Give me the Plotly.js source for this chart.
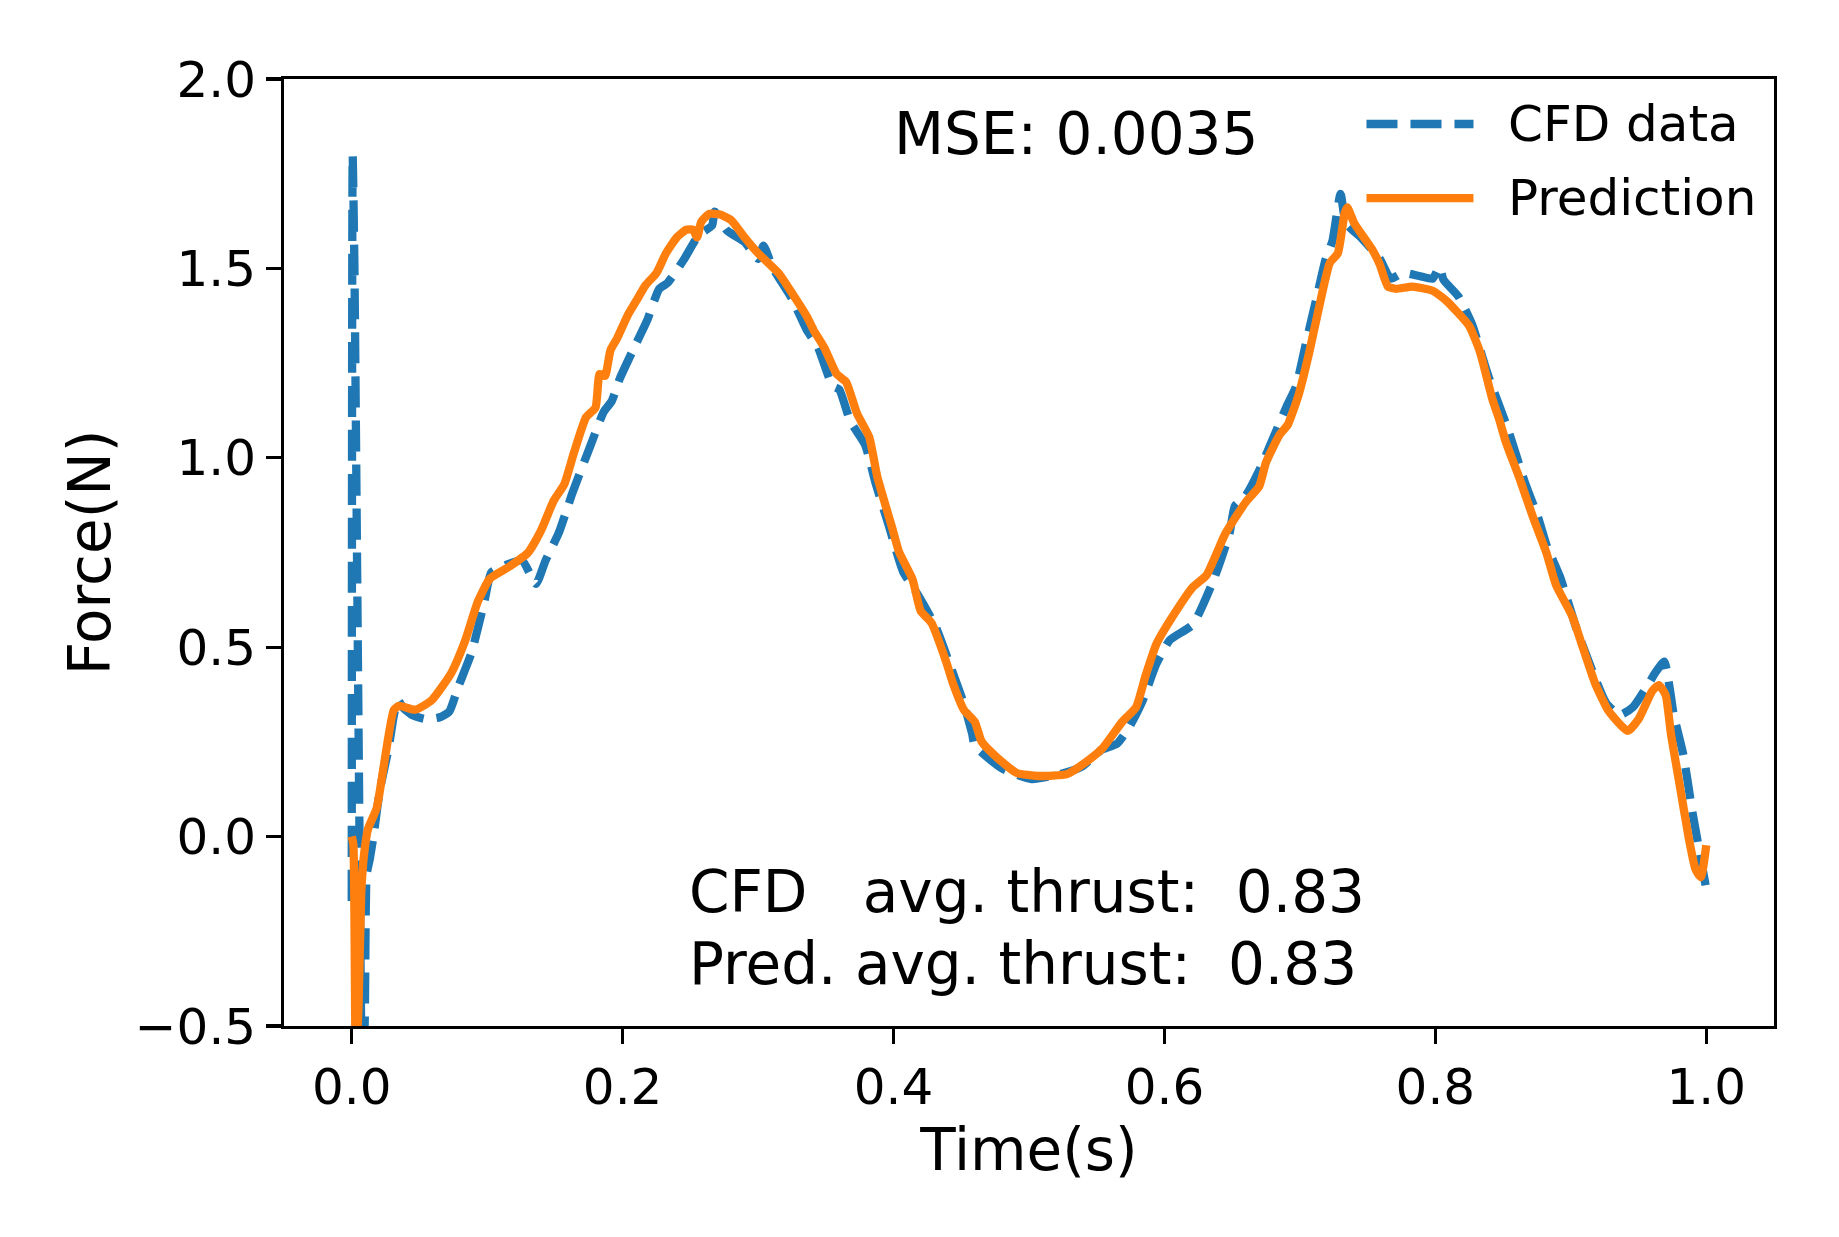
<!DOCTYPE html>
<html>
<head>
<meta charset="utf-8">
<script src="https://cdn.plot.ly/plotly-3.0.1.min.js"></script>
<style>
  html, body { margin: 0; padding: 0; background: #ffffff; }
  #chart { width: 1839px; height: 1237px; }
</style>
</head>
<body>
<div id="chart"></div>
<script>
// ---- data ----
const timeCFD = [0, 0.0007, 0.002, 0.004, 0.006, 0.0075, 0.0095, 0.011, 0.0133, 0.016, 0.0207, 0.027, 0.031, 0.034, 0.038, 0.045, 0.055, 0.065, 0.072, 0.0786, 0.0884, 0.098, 0.103, 0.116, 0.126, 0.136, 0.143, 0.153, 0.163, 0.176, 0.186, 0.192, 0.198, 0.208, 0.218, 0.227, 0.233, 0.245, 0.256, 0.266, 0.268, 0.277, 0.290, 0.300, 0.304, 0.311, 0.325, 0.336, 0.344, 0.355, 0.360, 0.368, 0.379, 0.387, 0.397, 0.407, 0.418, 0.431, 0.444, 0.452, 0.458, 0.460, 0.481, 0.502, 0.523, 0.539, 0.554, 0.565, 0.574, 0.584, 0.594, 0.604, 0.621, 0.636, 0.648, 0.652, 0.660, 0.670, 0.680, 0.690, 0.697, 0.705, 0.712, 0.719, 0.724, 0.730, 0.734, 0.746, 0.759, 0.767, 0.776, 0.788, 0.798, 0.803, 0.806, 0.817, 0.827, 0.839, 0.854, 0.866, 0.876, 0.882, 0.892, 0.904, 0.916, 0.926, 0.936, 0.946, 0.956, 0.963, 0.969, 0.976, 0.983, 0.990, 1.0];
const forceCFD = [-0.17, 1.80, 1.5, 0.7, -0.1, -0.6, -0.5, -0.1, -0.06, 0.0, 0.122, 0.229, 0.318, 0.36, 0.34, 0.32, 0.31, 0.315, 0.33, 0.395, 0.485, 0.622, 0.697, 0.72, 0.728, 0.667, 0.728, 0.803, 0.908, 1.03, 1.121, 1.15, 1.21, 1.287, 1.362, 1.446, 1.461, 1.522, 1.587, 1.613, 1.65, 1.6, 1.57, 1.525, 1.56, 1.5, 1.42, 1.337, 1.294, 1.19, 1.18, 1.097, 1.034, 0.93, 0.815, 0.70, 0.638, 0.555, 0.43, 0.35, 0.272, 0.24, 0.178, 0.152, 0.165, 0.185, 0.23, 0.245, 0.289, 0.36, 0.456, 0.519, 0.56, 0.675, 0.80, 0.873, 0.90, 0.967, 1.05, 1.134, 1.187, 1.311, 1.417, 1.524, 1.572, 1.697, 1.62, 1.578, 1.525, 1.473, 1.488, 1.48, 1.473, 1.504, 1.47, 1.426, 1.353, 1.217, 1.071, 0.936, 0.841, 0.77, 0.686, 0.551, 0.436, 0.353, 0.321, 0.342, 0.395, 0.436, 0.462, 0.321, 0.217, 0.06, -0.138];

const timePred = [0, 0.0012, 0.003, 0.005, 0.007, 0.009, 0.012, 0.0185, 0.031, 0.035, 0.047, 0.059, 0.0735, 0.0835, 0.0933, 0.102, 0.116, 0.13, 0.14, 0.149, 0.157, 0.164, 0.173, 0.180, 0.183, 0.187, 0.191, 0.196, 0.204, 0.210, 0.217, 0.225, 0.232, 0.240, 0.247, 0.252, 0.255, 0.258, 0.264, 0.272, 0.280, 0.290, 0.300, 0.315, 0.325, 0.336, 0.341, 0.349, 0.358, 0.365, 0.373, 0.382, 0.388, 0.399, 0.404, 0.414, 0.420, 0.428, 0.439, 0.444, 0.452, 0.460, 0.465, 0.476, 0.491, 0.507, 0.528, 0.541, 0.554, 0.569, 0.579, 0.586, 0.594, 0.606, 0.621, 0.631, 0.645, 0.660, 0.670, 0.675, 0.685, 0.691, 0.699, 0.707, 0.714, 0.722, 0.728, 0.733, 0.735, 0.740, 0.754, 0.759, 0.765, 0.771, 0.783, 0.798, 0.808, 0.825, 0.833, 0.842, 0.847, 0.852, 0.862, 0.872, 0.882, 0.889, 0.901, 0.909, 0.918, 0.928, 0.942, 0.950, 0.960, 0.965, 0.970, 0.974, 0.980, 0.987, 0.992, 0.996, 1.0];
const forcePred = [0.0, -0.02, -0.6, -0.45, -0.15, -0.05, 0.02, 0.076, 0.334, 0.345, 0.335, 0.36, 0.432, 0.515, 0.622, 0.681, 0.712, 0.749, 0.81, 0.886, 0.931, 1.013, 1.107, 1.133, 1.221, 1.216, 1.284, 1.316, 1.378, 1.414, 1.456, 1.488, 1.54, 1.582, 1.602, 1.602, 1.582, 1.623, 1.644, 1.642, 1.628, 1.582, 1.54, 1.488, 1.435, 1.373, 1.337, 1.29, 1.221, 1.2, 1.117, 1.055, 0.95, 0.815, 0.752, 0.679, 0.596, 0.564, 0.46, 0.403, 0.334, 0.303, 0.251, 0.21, 0.168, 0.16, 0.165, 0.194, 0.232, 0.304, 0.341, 0.424, 0.508, 0.581, 0.659, 0.69, 0.80, 0.883, 0.925, 0.988, 1.061, 1.087, 1.166, 1.28, 1.395, 1.514, 1.54, 1.645, 1.661, 1.62, 1.546, 1.51, 1.452, 1.446, 1.452, 1.441, 1.415, 1.348, 1.279, 1.156, 1.103, 1.042, 0.947, 0.844, 0.749, 0.665, 0.582, 0.498, 0.404, 0.331, 0.279, 0.31, 0.384, 0.40, 0.374, 0.269, 0.144, -0.002, -0.086, -0.107, -0.023];

const xTickVals = [0.0, 0.2, 0.4, 0.6, 0.8, 1.0];
const xTickText = ["0.0", "0.2", "0.4", "0.6", "0.8", "1.0"];
const yTickVals = [-0.5, 0.0, 0.5, 1.0, 1.5, 2.0];
const yTickText = ["\u22120.5", "0.0", "0.5", "1.0", "1.5", "2.0"];

const seriesNames = ["CFD data", "Prediction"];
const mseText = "MSE: 0.0035";
const cfdAvgText = "CFD\u00a0\u00a0\u00a0avg. thrust:\u00a0\u00a00.83";
const predAvgText = "Pred. avg. thrust:\u00a0\u00a00.83";

// ---- styling ----
const BLUE = "#1f77b4";
const ORANGE = "#ff7f0e";
const FONT = "DejaVu Sans, Liberation Sans, sans-serif";
const LW = 8.3;

const traces = [
  {
    x: timeCFD, y: forceCFD, type: "scatter", mode: "lines", name: seriesNames[0],
    line: { color: BLUE, width: LW, dash: "31px,13px", shape: "spline", smoothing: 0.5 }, showlegend: false
  },
  {
    x: timePred, y: forcePred, type: "scatter", mode: "lines", name: seriesNames[1],
    line: { color: ORANGE, width: LW, shape: "spline", smoothing: 0.5 }, showlegend: false
  }
];

const axisCommon = {
  showline: true, linecolor: "#000000", linewidth: 3.3, mirror: true,
  ticks: "outside", ticklen: 14.6, tickwidth: 3.3, tickcolor: "#000000",
  showgrid: false, zeroline: false,
  tickfont: { family: FONT, size: 50, color: "#000000" },
  fixedrange: true
};

// legend drawn in paper coordinates (matplotlib-like long handles)
const legLineX0 = 0.7265, legLineX1 = 0.7983, legTextX = 0.8200;
const legY = [0.9525, 0.8743];

const layout = {
  width: 1839, height: 1237,
  margin: { l: 284, r: 65, t: 79, b: 211, pad: 0 },
  paper_bgcolor: "#ffffff", plot_bgcolor: "#ffffff",
  font: { family: FONT, color: "#000000" },
  showlegend: false,
  xaxis: Object.assign({}, axisCommon, {
    range: [-0.05, 1.05], tickmode: "array", tickvals: xTickVals, ticktext: xTickText,
    title: { text: "Time(s)", font: { family: FONT, size: 58, color: "#000000" }, standoff: 12 }
  }),
  yaxis: Object.assign({}, axisCommon, {
    range: [-0.5, 2.0], tickmode: "array", tickvals: yTickVals, ticktext: yTickText,
    title: { text: "Force(N)", font: { family: FONT, size: 58, color: "#000000" }, standoff: 6 }
  }),
  shapes: [
    { type: "line", xref: "paper", yref: "paper", x0: legLineX0, x1: legLineX1, y0: legY[0], y1: legY[0],
      line: { color: BLUE, width: LW, dash: "31px,13px" } },
    { type: "line", xref: "paper", yref: "paper", x0: legLineX0, x1: legLineX1, y0: legY[1], y1: legY[1],
      line: { color: ORANGE, width: LW } }
  ],
  annotations: [
    { xref: "paper", yref: "paper", x: legTextX, y: legY[0], xanchor: "left", yanchor: "middle",
      text: seriesNames[0], showarrow: false, font: { family: FONT, size: 50, color: "#000000" } },
    { xref: "paper", yref: "paper", x: legTextX, y: legY[1], xanchor: "left", yanchor: "middle",
      text: seriesNames[1], showarrow: false, font: { family: FONT, size: 50, color: "#000000" } },
    { xref: "paper", yref: "paper", x: (892 - 284) / 1490, y: 0.9415, xanchor: "left", yanchor: "middle",
      text: mseText, showarrow: false, font: { family: FONT, size: 58, color: "#000000" } },
    { xref: "paper", yref: "paper", x: (687 - 284) / 1490, y: 0.1410, xanchor: "left", yanchor: "middle",
      text: cfdAvgText, showarrow: false, font: { family: FONT, size: 58, color: "#000000" } },
    { xref: "paper", yref: "paper", x: (687 - 284) / 1490, y: 0.0655, xanchor: "left", yanchor: "middle",
      text: predAvgText, showarrow: false, font: { family: FONT, size: 58, color: "#000000" } }
  ]
};

Plotly.newPlot("chart", traces, layout, { displayModeBar: false, staticPlot: true });
</script>
</body>
</html>
